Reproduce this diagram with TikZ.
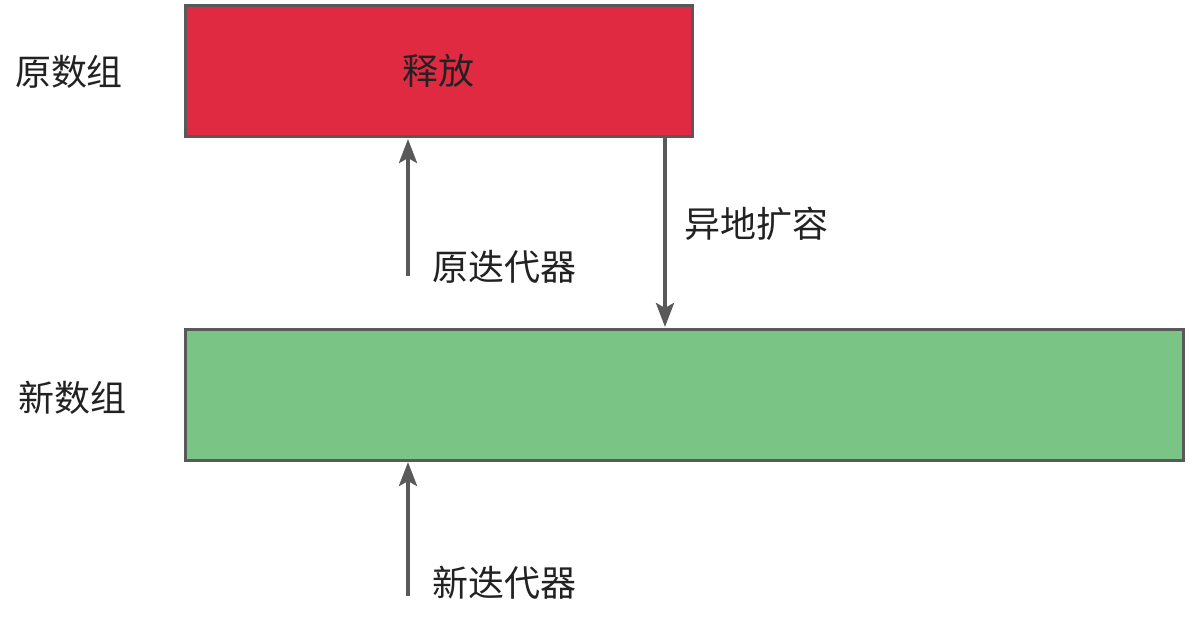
\documentclass[tikz,border=0pt]{standalone}
\usepackage{fontspec}
\setmainfont{Noto Sans CJK SC}
\usetikzlibrary{arrows.meta}
\definecolor{redfill}{HTML}{E02A42}
\definecolor{greenfill}{HTML}{7AC586}
\definecolor{edge}{HTML}{595959}
\definecolor{txt}{HTML}{222222}
\begin{document}
\begin{tikzpicture}[x=1pt,y=-1pt,
  box/.style={draw=edge,line width=3pt,inner sep=0pt,outer sep=0pt,rectangle},
  lbl/.style={font=\fontsize{36}{42}\selectfont,text=txt,inner sep=0pt},
  arr/.style={draw=edge,line width=4pt,-{Stealth[length=24pt,width=18pt,inset=5pt]}}]
\useasboundingbox (0,0) rectangle (1194,627);
\node[box,fill=redfill,minimum width=507pt,minimum height=131pt] (oldarr) at (438.5,70.5) {};
\node[box,fill=greenfill,minimum width=998pt,minimum height=131pt] (newarr) at (684,394.5) {};
\node[lbl] (release) at (oldarr.center) {释放};
\node[lbl] (old) at (69,72) {原数组};
\node[lbl] (new) at (72,398) {新数组};
\node[lbl,anchor=west] (olditer) at (432,267) {原迭代器};
\node[lbl,anchor=west] (expand) at (684,224) {异地扩容};
\node[lbl,anchor=west] (newiter) at (432,583) {新迭代器};
\coordinate (a1s) at (408,276);
\coordinate (a1e) at (408,139);
\coordinate (a2s) at (665,138);
\coordinate (a2e) at (665,327);
\coordinate (a3s) at (408,596);
\coordinate (a3e) at (408,462);
\draw[arr] (a1s) -- (a1e);
\draw[arr] (a2s) -- (a2e);
\draw[arr] (a3s) -- (a3e);
\end{tikzpicture}
\end{document}
